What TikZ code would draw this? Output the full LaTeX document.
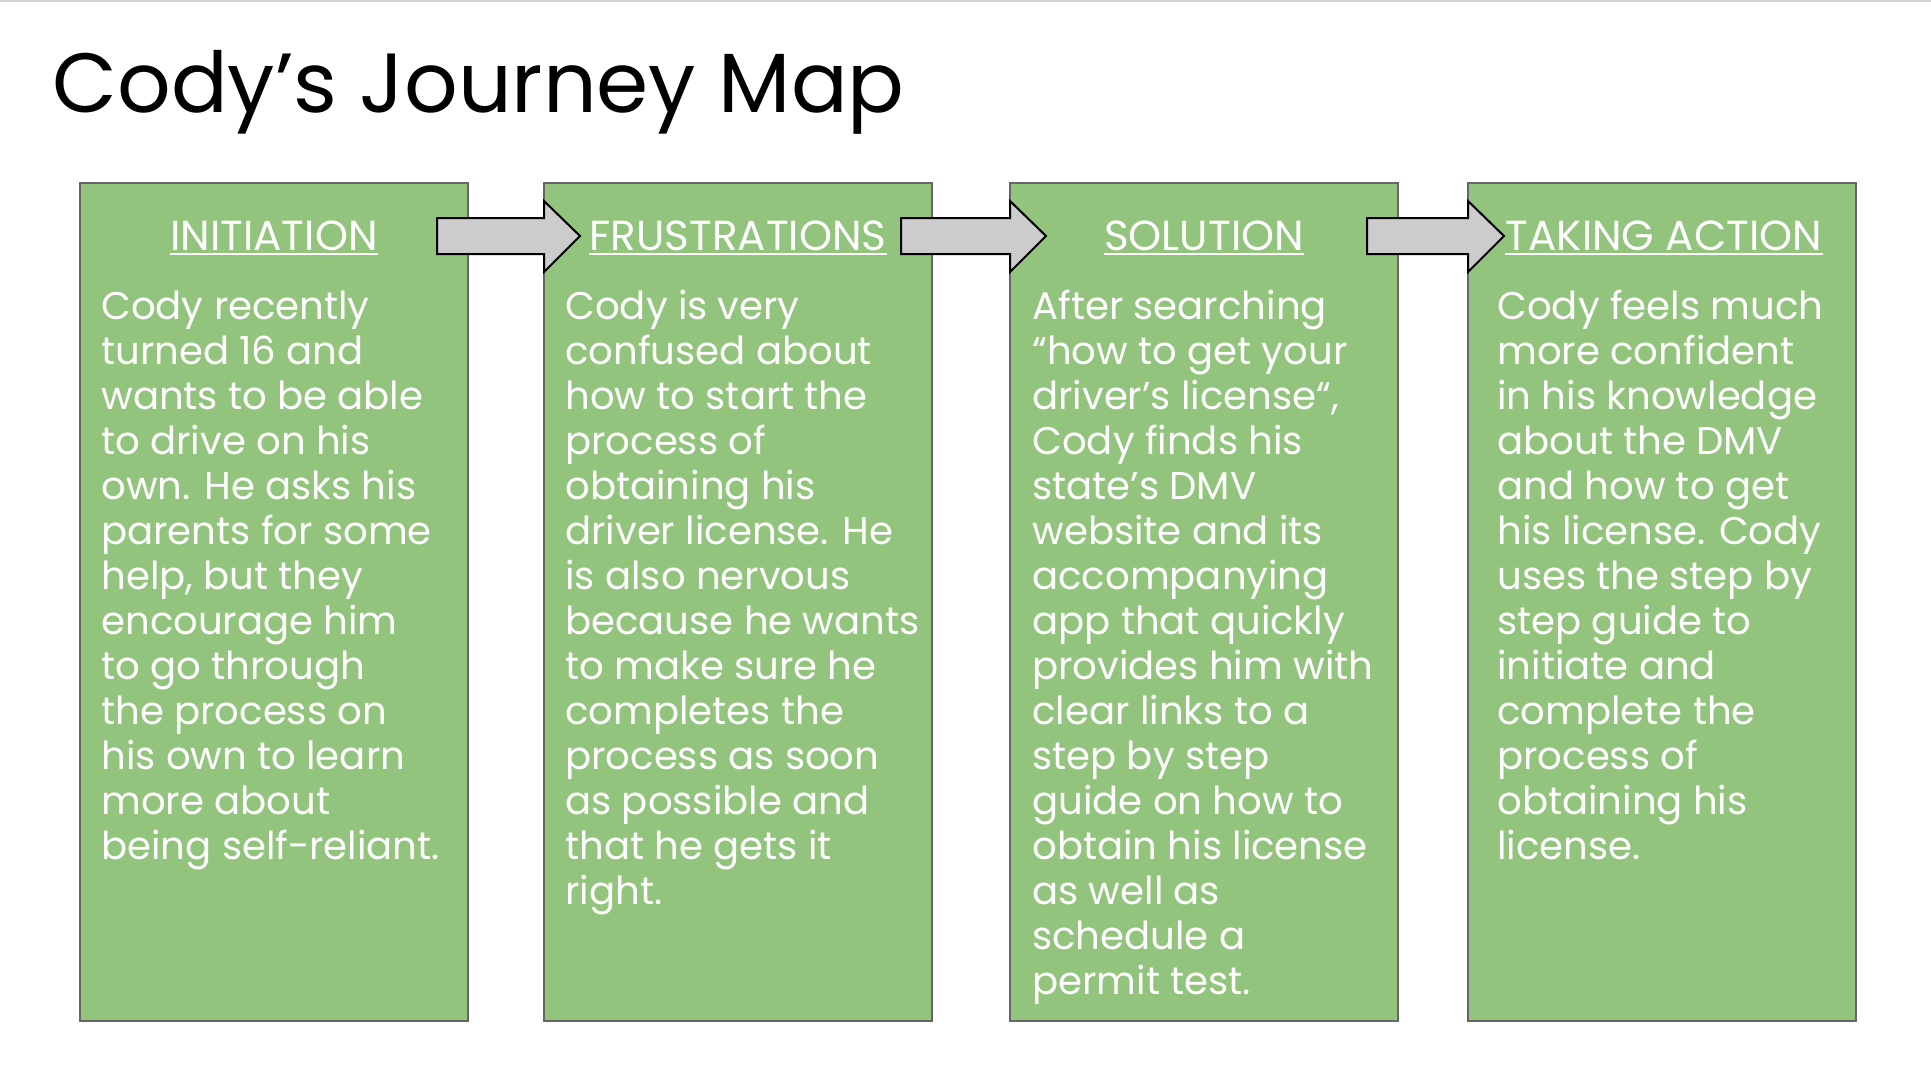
\documentclass[tikz,border=0pt]{standalone}
\usepackage{fontspec}
\setmainfont{Poppins}
\usetikzlibrary{calc}
\definecolor{boxgreen}{HTML}{93C47D}
\definecolor{boxedge}{HTML}{666666}
\definecolor{arrowgrey}{HTML}{CCCCCC}
\begin{document}
\begin{tikzpicture}[x=0.5pt,y=-0.5pt,
  box/.style={draw=boxedge, line width=1pt, fill=boxgreen, minimum width=194pt, minimum height=419pt, anchor=north west, inner sep=0, outer sep=0},
  blockarrow/.style={draw=black, line width=1pt, fill=arrowgrey, line join=miter},
  heading/.style={text=white, font=\fontsize{21}{25}\selectfont, anchor=base, inner sep=0},
  headline/.style={draw=white, line width=1pt},
  body/.style={text=white, font=\fontsize{19.3}{22.5}\selectfont, align=left, anchor=north west, inner sep=0},
  title/.style={text=black, font=\fontsize{42}{48}\selectfont, anchor=base west, inner sep=0}
]
\useasboundingbox (0,0) rectangle (1931,1088);
\fill[white] (0,0) rectangle (1931,1088);
\draw[gray!35, line width=1pt] (0,1) -- (1931,1);

\node[title] (title) at (52,112) {Cody’s Journey Map};

% boxes
\node[box] (b1) at (80,183) {};
\node[box] (b2) at (544,183) {};
\node[box] (b3) at (1010,183) {};
\node[box] (b4) at (1468,183) {};

% block arrows
\foreach \a/\b in {b1/b2, b2/b3, b3/b4}{
  \draw[blockarrow]
    ($(\a.north east)+(-31,35)$) --
    ($(\b.north west)+(0,35)$) --
    ($(\b.north west)+(0,18)$) --
    ($(\b.north west)+(36,53)$) --
    ($(\b.north west)+(0,89)$) --
    ($(\b.north west)+(0,71)$) --
    ($(\a.north east)+(-31,71)$) -- cycle;
}

% headings
\node[heading] (h1) at ($(b1.north)+(0,67)$) {INITIATION};
\node[heading] (h2) at ($(b2.north)+(0,67)$) {FRUSTRATIONS};
\node[heading] (h3) at ($(b3.north)+(0,67)$) {SOLUTION};
\node[heading] (h4) at ($(b4.north)+(2,67)$) {TAKING ACTION};
\foreach \h in {h1,h2,h3,h4}{
  \draw[headline] ([yshift=-2pt]\h.base west) -- ([yshift=-2pt]\h.base east);
}

% bodies
\node[body] (t1) at ($(b1.north west)+(21,104)$) {\rule{0pt}{16pt}Cody recently\\
turned 16 and\\
wants to be able\\
to drive on his\\
own. He asks his\\
parents for some\\
help, but they\\
encourage him\\
to go through\\
the process on\\
his own to learn\\
more about\\
being self-reliant.};

\node[body] (t2) at ($(b2.north west)+(21,104)$) {\rule{0pt}{16pt}Cody is very\\
confused about\\
how to start the\\
process of\\
obtaining his\\
driver license. He\\
is also nervous\\
because he wants\\
to make sure he\\
completes the\\
process as soon\\
as possible and\\
that he gets it\\
right.};

\node[body] (t3) at ($(b3.north west)+(22,104)$) {\rule{0pt}{16pt}After searching\\
“how to get your\\
driver’s license“,\\
Cody finds his\\
state’s DMV\\
website and its\\
accompanying\\
app that quickly\\
provides him with\\
clear links to a\\
step by step\\
guide on how to\\
obtain his license\\
as well as\\
schedule a\\
permit test.};

\node[body] (t4) at ($(b4.north west)+(29,104)$) {\rule{0pt}{16pt}Cody feels much\\
more confident\\
in his knowledge\\
about the DMV\\
and how to get\\
his license. Cody\\
uses the step by\\
step guide to\\
initiate and\\
complete the\\
process of\\
obtaining his\\
license.};
\end{tikzpicture}
\end{document}
